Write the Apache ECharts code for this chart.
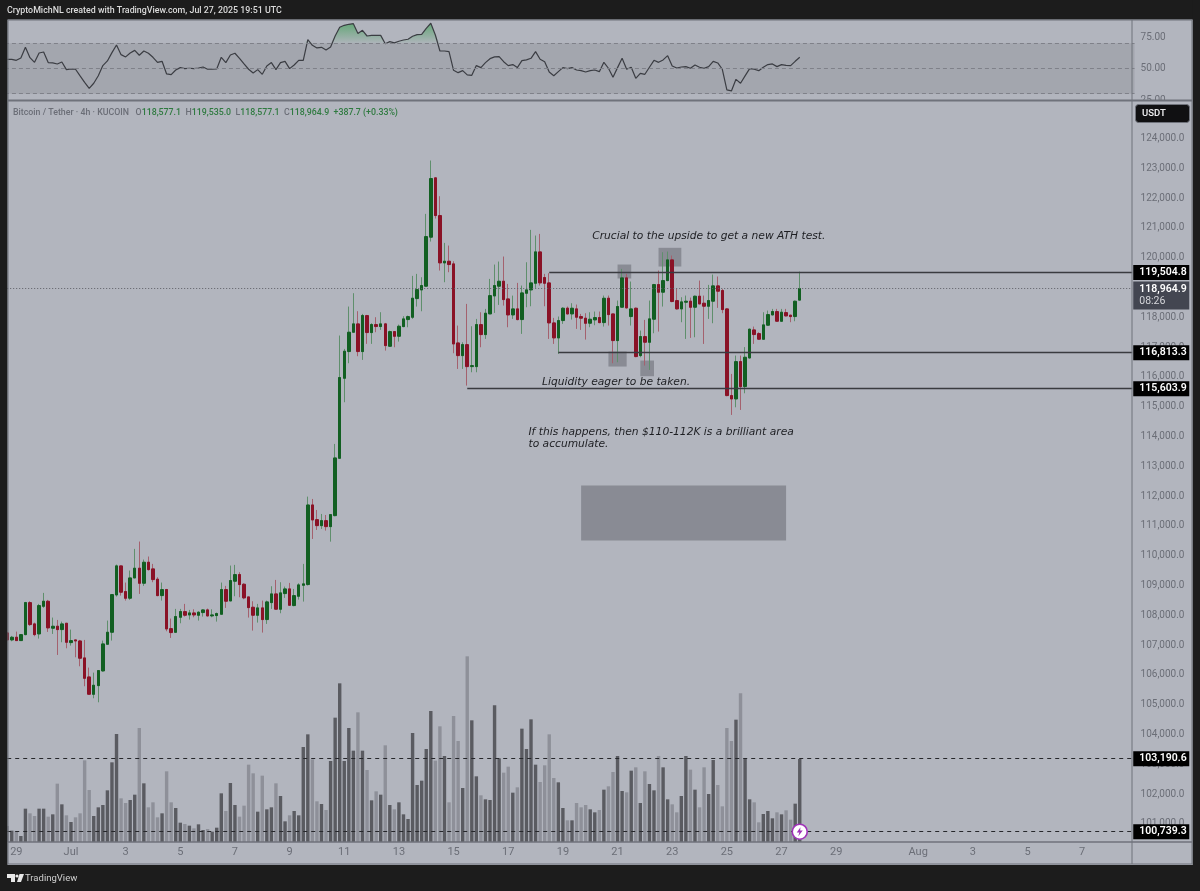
<!DOCTYPE html>
<html><head><meta charset="utf-8">
<style>html,body{margin:0;padding:0;background:#1c1c1c}#c{width:1200px;height:891px}</style>
<script src="https://cdn.jsdelivr.net/npm/echarts@6/dist/echarts.min.js"></script>
</head><body><div id="c"></div>
<script>
const opens=[107409,107174,107264,107152,107353,108427,107711,107375,108304,108472,
107566,107633,107521,107733,107084,107174,107140,106570,105932,105350,
105641,106133,107029,107431,108685,109658,108797,108573,109255,109580,
109076,109781,109558,109211,108662,108864,107554,107431,107935,108125,
108013,108080,108002,108092,108181,107980,107991,108036,108864,108483,
109143,109367,109043,108617,108271,108002,108248,107857,108427,108718,
108204,108729,108886,108327,108640,109009,109032,111703,111211,111009,
111177,110976,111345,113270,115955,116851,117500,117779,116851,118059,
117488,117757,117690,117779,117028,117521,117364,117689,117924,118002,
118629,118920,119043,120688,122679,121415,119826,119882,119792,117140,
116715,117084,116346,116346,117756,117420,118114,118718,119043,119210,
118617,118080,118282,117924,118808,118920,119143,120195,119334,119155,
117812,117309,117891,118305,118114,118282,118025,117969,117801,117913,
117991,117823,118640,118114,117219,118338,119323,118025,118305,116716,
117354,117163,117935,119099,118842,119233,119927,118562,118282,118506,
118540,118338,118708,118473,118372,118540,119055,118898,118282,115373,
115261,116514,115675,116637,117577,117454,117264,117734,118081,118193,
117868,118159,118070,118025,118577.1];
const closes=[107174,107264,107152,107353,108427,107689,107353,108327,108472,107577,
107633,107521,107711,107096,107152,107140,106559,105887,105350,105652,
106145,107040,107431,108696,109658,108774,108573,109255,109580,109076,
109781,109535,109199,108662,108864,107543,107420,107957,108125,108002,
108080,108013,108103,108181,107980,108013,108058,108864,108472,109166,
109367,109032,108584,108259,108002,108248,107857,108450,108718,108204,
108752,108886,108338,108662,109020,109054,111703,111200,111009,111177,
110976,111379,113281,115978,116862,117500,117779,116851,118059,117488,
117757,117690,117779,117051,117521,117364,117700,117946,118024,118640,
118931,119065,120710,122657,121415,119826,119882,119770,117107,116715,
117084,116346,116380,117756,117420,118136,118729,119065,119210,118595,
118080,118282,117924,118819,118920,119155,120195,119155,119143,117812,
117309,117891,118305,118114,118305,118003,117969,117801,117935,117991,
117823,118640,118092,117219,118361,119323,118316,118282,116682,117354,
117163,117947,119099,118842,119233,119927,118529,118282,118517,118540,
118338,118708,118450,118372,118562,119055,118875,118260,115373,115261,
116514,115675,116660,117600,117421,117264,117745,118092,118193,117868,
118170,118047,118025,118540,118964.9];
const highs=[107487,107308,107454,107360,108450,108472,107756,108383,108752,108517,
107924,107845,107789,107733,107521,107174,107174,107174,106245,106077,
106145,107152,107823,108696,109703,109670,109099,109502,110229,110475,
109871,109972,109725,109278,109099,108886,107890,108215,108215,108383,
108181,108203,108136,108203,108226,108203,108092,109099,108987,109669,
109692,109446,109076,108617,108472,108383,108494,108494,108976,109188,
109110,108964,109087,108886,109076,109725,111983,111905,111535,111401,
111367,111379,113751,117388,116940,118361,118809,118205,118115,118081,
117802,118003,118171,117812,117554,117521,117756,118036,118058,119390,
119457,119345,121471,123261,122702,122064,120497,120408,119882,117722,
117163,118450,117700,117946,118170,118282,119289,119770,119871,120039,
119121,118729,119155,119065,119848,120934,120744,120799,119457,119479,
117980,118025,118338,118361,118473,118428,118114,118137,118170,118193,
118193,118730,118730,118114,118562,119625,119457,119200,118327,117555,
117913,118562,119121,119569,120185,120207,120073,118954,118674,118730,
118662,118730,119233,118730,119088,119435,119368,118954,118305,116100,
116716,116716,117000,117622,117689,117500,118170,118226,118282,118282,
118282,118282,118090,118562,119535];
const lows=[107129,107129,107140,107140,107330,107644,107297,107219,108248,107443,
107375,106670,107096,106894,106984,106592,106290,105619,105339,105216,
105081,106111,107006,107152,108629,108662,108494,108517,109250,108718,
108987,109501,109110,108640,108494,107465,107241,107409,107733,107957,
107857,107935,107823,107957,107957,107935,107789,108036,108248,108483,
108640,108606,108539,107924,107487,107756,107420,107711,108215,108204,
108069,108584,108315,108304,108528,108461,109000,110562,110864,110898,
110842,110472,111323,113247,115150,116459,117477,116694,116571,117108,
117108,117500,117578,116883,117010,116995,117185,117666,117666,117946,
118360,118203,119030,120542,121314,119569,119177,119513,116794,116268,
116268,115708,116156,116156,116995,117275,118114,118147,118416,118394,
117666,117946,117900,117443,118338,118371,118987,119065,118371,117275,
117107,116772,117779,118100,117924,117611,117577,117253,117667,117734,
117800,117689,117723,116458,116492,118338,118300,117723,116660,116660,
116380,116235,117465,117521,118361,119211,118506,118260,117835,117275,
117309,117331,118440,117107,117947,117801,118316,118137,115351,114724,
114981,114892,115451,116615,117107,117250,117250,117720,118070,117850,
117850,118030,117835,117868,118577.1];
const volumes=[48,34,33,18,100,86,78,100,100,76,83,175,113,80,60,74,86,245,156,78,
104,111,155,239,324,131,117,126,142,342,176,104,119,74,86,212,119,102,58,54,
49,41,53,36,39,31,43,146,93,177,111,76,109,232,206,91,199,98,104,176,
138,62,80,93,80,285,323,248,122,114,96,243,373,476,243,342,274,389,274,216,
125,152,142,290,111,98,119,83,69,327,171,184,279,393,244,347,258,119,378,303,
162,557,365,197,140,128,126,410,251,208,226,148,164,340,279,368,232,180,230,323,
192,179,102,65,65,117,104,111,98,89,96,157,167,210,258,153,149,214,224,117,
212,174,155,258,224,128,113,89,138,258,217,157,104,224,144,246,171,107,342,303,
367,446,251,128,119,59,84,93,71,89,83,95,67,115,249];
const rsi=[57.3,57.3,56.5,58.4,66.8,58.6,54.9,62.3,63.1,54.7,54.4,53.6,55.2,49.1,49.6,49.4,44.1,39.0,34.3,38.3,
44.3,52.3,56.0,62.6,68.7,61.0,59.2,62.3,64.4,60.5,63.9,62.1,58.9,54.9,55.7,45.7,45.1,48.8,50.7,49.9,
50.2,49.9,50.4,51.2,49.4,49.4,49.6,58.9,54.7,60.7,62.1,58.1,53.6,49.4,46.5,49.1,45.4,52.0,54.7,49.1,
54.7,55.7,49.9,52.8,56.5,56.5,72.9,68.4,66.3,66.8,64.7,67.1,75.8,82.7,84.3,85.1,85.6,77.7,80.3,75.8,
76.3,76.3,76.3,69.7,71.3,70.3,71.6,72.6,73.2,75.6,76.9,77.1,81.9,85.9,76.6,63.9,63.9,63.4,
48.6,46.7,48.3,44.9,44.6,52.3,50.7,54.7,57.8,59.2,59.4,55.4,52.3,53.1,50.7,56.2,56.8,58.1,63.4,57.3,55.4,47.2,44.3,47.5,
50.7,49.9,50.7,48.8,48.3,47.2,48.3,48.8,47.5,54.9,50.2,43.0,50.7,58.1,49.4,51.0,42.2,46.2,45.4,51.0,
56.5,54.9,56.8,60.2,52.0,50.4,51.2,51.5,50.2,52.8,51.0,50.2,51.5,55.7,54.4,49.4,33.0,32.2,41.4,38.3,
44.1,49.9,49.4,48.3,51.0,53.1,53.6,51.5,53.1,52.5,52.3,55.7,58.9];
const priceTicks=[124000,123000,122000,121000,120000,119000,118000,117000,116000,115000,114000,113000,112000,111000,110000,109000,108000,107000,106000,105000,104000,103000,102000,101000];
const rsiTicks=[25,50,75];
const tickDates=['06-29','07-01','07-03','07-05','07-07','07-09','07-11','07-13','07-15','07-17','07-19','07-21','07-23','07-25','07-27','07-29','08-01','08-03','08-05','08-07'];
const tickLabels=['29','Jul','3','5','7','9','11','13','15','17','19','21','23','25','27','29','Aug','3','5','7'];
const levels=[{value:119504.8,from:119,name:'119,504.8'},{value:116813.3,from:121,name:'116,813.3'},{value:115603.9,from:101,name:'115,603.9'}];
const dashedLevels=[{value:103190.6,name:'103,190.6'},{value:100739.3,name:'100,739.3'}];
const lastPrice={value:118964.9,name:'118,964.9',countdown:'08:26'};
const zones=[{x:[126,171],y:[112355,110509]},{x:[134,137],y:[119771,119302]},{x:[143,148],y:[120332,119704]},{x:[132,136],y:[116852,116348]},{x:[139,142],y:[116549,116023]}];
const notes=[{x:128,y:120730,text:'Crucial to the upside to get a new ATH test.'},{x:117,y:115810,text:'Liquidity eager to be taken.'},{x:114,y:113950,text:'If this happens, then $110-112K is a brilliant area\nto accumulate.'}];

const SLOTS=248, LAST=SLOTS-1;
const categories=[];
{const t0=Date.UTC(2025,5,28,16);
 for(let i=0;i<SLOTS;i++){const d=new Date(t0+i*4*3600e3);
  const p=n=>String(n).padStart(2,'0');
  categories.push(p(d.getUTCMonth()+1)+'-'+p(d.getUTCDate())+' '+p(d.getUTCHours())+':00');}}
const tickMap={};tickDates.forEach((d,i)=>tickMap[d+' 00:00']=tickLabels[i]);

const GL=4.925,GW=1129.6;
const FONT='Roboto,"Open Sans",sans-serif';
const AX='#6b6e77';
const fmt=v=>v.toLocaleString('en-US',{minimumFractionDigits:1,maximumFractionDigits:1});
const UP='#125f22',DOWN='#8a1226',UPW='#5f8f6c',DOWNW='#a4616e';
const badge=(name)=>({show:true,position:'end',distance:1,formatter:name,color:'#fff',fontFamily:FONT,fontSize:10.5,fontWeight:600,backgroundColor:'#000',padding:[2,5,2,6],width:45,height:11,lineHeight:11,align:'left'});

const chart=echarts.init(document.getElementById('c'),null,{renderer:'canvas'});
const strip=(x,y,w,h)=>({type:'rect',shape:{x,y,width:w,height:h},style:{fill:'#1c1c1c'},z:100,silent:true});
const rule=(x1,y1,x2,y2,lw)=>({type:'line',shape:{x1,y1,x2,y2},style:{stroke:'#6f727b',lineWidth:lw||1},z:101,silent:true});
chart.setOption({
 animation:false,backgroundColor:'#b2b5be',
 grid:[{left:GL,width:GW,top:20,height:80},{left:GL,width:GW,top:102,height:740}],
 xAxis:[
  {type:'category',gridIndex:0,data:categories,show:false,boundaryGap:true},
  {type:'category',gridIndex:1,data:categories,boundaryGap:true,axisLine:{show:false},axisTick:{show:false},
   axisLabel:{color:AX,fontFamily:FONT,fontSize:11,margin:5,hideOverlap:false,interval:(i,v)=>v in tickMap,formatter:v=>tickMap[v]||''}},
  {type:'category',gridIndex:1,data:categories,show:false,boundaryGap:true}],
 yAxis:[
  {type:'value',gridIndex:0,position:'right',min:25,max:88.5,splitLine:{show:false},axisLine:{show:false},axisTick:{show:false},
   axisLabel:{customValues:rsiTicks,color:AX,fontFamily:FONT,fontSize:10,margin:6,padding:[4,0,0,0],formatter:v=>v.toFixed(2)}},
  {type:'value',gridIndex:1,position:'right',min:100393,max:125225,splitLine:{show:false},axisLine:{show:false},axisTick:{show:false},
   axisLabel:{customValues:priceTicks,color:AX,fontFamily:FONT,fontSize:10,margin:6,padding:[6,0,0,0],formatter:fmt}},
  {type:'value',gridIndex:1,show:false,min:0,max:2220,splitLine:{show:false}}],
 series:[
  {name:'RSI band',type:'line',xAxisIndex:0,yAxisIndex:0,data:[],silent:true,
   markArea:{silent:true,itemStyle:{color:'#a3a6ae'},data:[[{yAxis:70},{yAxis:30}]]},
   markLine:{silent:true,symbol:'none',label:{show:false},lineStyle:{color:'#7f8189',type:[4,3],width:1},data:[{yAxis:70},{yAxis:50},{yAxis:30}]}},
  {name:'RSI overbought',type:'line',xAxisIndex:0,yAxisIndex:0,symbol:'none',silent:true,data:rsi.map(v=>Math.max(v,70)),lineStyle:{width:0},
   areaStyle:{origin:70,opacity:1,color:new echarts.graphic.LinearGradient(0,0,0,1,[{offset:0,color:'rgba(92,165,112,0.9)'},{offset:1,color:'rgba(92,165,112,0.05)'}])}},
  {name:'RSI',type:'line',xAxisIndex:0,yAxisIndex:0,symbol:'none',silent:true,data:rsi,lineStyle:{color:'#3b3d43',width:1.2}},
  {name:'Volume',type:'bar',xAxisIndex:2,yAxisIndex:2,silent:true,barWidth:3.4,data:volumes,
   itemStyle:{color:p=>closes[p.dataIndex]>=opens[p.dataIndex]?'#5a5b61':'#8e9099'}},
  {name:'Wicks',type:'candlestick',xAxisIndex:1,yAxisIndex:1,silent:true,barWidth:2,
   itemStyle:{color:UPW,color0:DOWNW,borderColor:UPW,borderColor0:DOWNW,borderWidth:1},
   data:opens.map((o,i)=>[o,closes[i],lows[i],highs[i]])},
  {name:'BTCUSDT',type:'candlestick',xAxisIndex:1,yAxisIndex:1,silent:true,barWidth:3,
   itemStyle:{color:UP,color0:DOWN,borderColor:UP,borderColor0:DOWN,borderWidth:1},
   data:opens.map((o,i)=>{const c=closes[i];return [o,c,Math.min(o,c),Math.max(o,c)]}),
   markArea:{silent:true,itemStyle:{color:'rgba(65,67,75,0.36)'},
    data:zones.map(z=>[{coord:[z.x[0],z.y[0]]},{coord:[z.x[1],z.y[1]]}])},
   markLine:{silent:true,symbol:'none',precision:1,data:[
    [{coord:[0,lastPrice.value],lineStyle:{color:'#5d5f66',type:[1,2],width:1},
      label:{show:true,position:'end',distance:1,offset:[0,7],formatter:'{a|'+lastPrice.name+'}\n{b|'+lastPrice.countdown+'}',backgroundColor:'#434651',padding:[2,5,2,6],width:45,align:'left',
       rich:{a:{color:'#fff',fontFamily:FONT,fontSize:10.5,fontWeight:600,lineHeight:12},b:{color:'#d5d6da',fontFamily:FONT,fontSize:10.5,lineHeight:12}}}},
     {coord:[LAST,lastPrice.value]}],
    ...levels.map(l=>[{coord:[l.from,l.value],lineStyle:{color:'#3a3b40',type:'solid',width:1.3},label:badge(l.name)},{coord:[LAST,l.value]}]),
    ...dashedLevels.map(l=>[{coord:[0,l.value],lineStyle:{color:'#26272b',type:[4,4],width:1},label:badge(l.name)},{coord:[LAST,l.value]}])
   ]},
   markPoint:{silent:true,data:[
    ...notes.map(n=>({coord:[n.x,n.y],symbol:'circle',symbolSize:0,itemStyle:{color:'transparent'},
      label:{show:true,position:'right',distance:2,formatter:n.text,color:'#1d1e22',fontFamily:'"DejaVu Sans",sans-serif',fontStyle:'italic',fontSize:10.7,lineHeight:12.5,align:'left'}})),
    {coord:[174,dashedLevels[1].value],symbol:'circle',symbolSize:15,itemStyle:{color:'#fff',borderColor:'#a033b8',borderWidth:1.6},label:{show:false}},
    {coord:[174,dashedLevels[1].value],symbol:'path://M6 0L1 7H4.5L3 12L9 4.5H5.5L6 0Z',symbolSize:[6,9],itemStyle:{color:'#a033b8'},label:{show:false}}
   ]}}
 ],
 graphic:[
  strip(0,0,1200,19.5),strip(0,0,7.5,891),strip(1192.7,0,7.3,891),strip(0,865,1200,26),
  {type:'rect',shape:{x:1133,y:100.5,width:59,height:3},style:{fill:'#b2b5be'},z:100,silent:true},
  rule(8,20,1192,20),rule(8,20,8,864),rule(1192,20,1192,864),rule(8,864,1192,864,1.2),
  rule(1132,20,1132,864),rule(8,100.5,1192,100.5,2),rule(8,842,1192,842,1.4),
  {type:'rect',shape:{x:1135.5,y:104.5,width:54,height:18,r:3},style:{fill:'#101012',stroke:'#6f727b',lineWidth:1},z:102,silent:true},
  {type:'text',x:1142,y:114,style:{text:'USDT',fill:'#e8e8ea',font:'600 9.5px '+FONT,textVerticalAlign:'middle'},z:103,silent:true},
  {type:'text',x:7,y:10.5,style:{text:'CryptoMichNL created with TradingView.com, Jul 27, 2025 19:51 UTC',fill:'#dcdcdc',font:'500 8.85px '+FONT,textVerticalAlign:'middle'},z:103,silent:true},
  {type:'text',x:13,y:112.5,style:{rich:{g:{fill:'#6b6e77',font:'500 8.8px '+FONT},v:{fill:'#2f7a40',font:'500 8.8px '+FONT}},
    text:'{g|Bitcoin / Tether · 4h · KUCOIN   O}{v|118,577.1}{g|  H}{v|119,535.0}{g|  L}{v|118,577.1}{g|  C}{v|118,964.9}{v|  +387.7 (+0.33%)}',textVerticalAlign:'middle'},z:103,silent:true},
  {type:'polygon',shape:{points:[[7,874],[15,874],[15,882],[11,882],[11,878],[7,878]]},style:{fill:'#e8e8e8'},z:103,silent:true},
  {type:'polygon',shape:{points:[[19.5,874],[24,874],[21,882],[17,882]]},style:{fill:'#e8e8e8'},z:103,silent:true},
  {type:'circle',shape:{cx:17,cy:876,r:1.6},style:{fill:'#e8e8e8'},z:103,silent:true},
  {type:'text',x:25,y:878.5,style:{text:'TradingView',fill:'#d0d0d0',font:'9.5px '+FONT,textVerticalAlign:'middle'},z:103,silent:true}
 ]
});
</script></body></html>
